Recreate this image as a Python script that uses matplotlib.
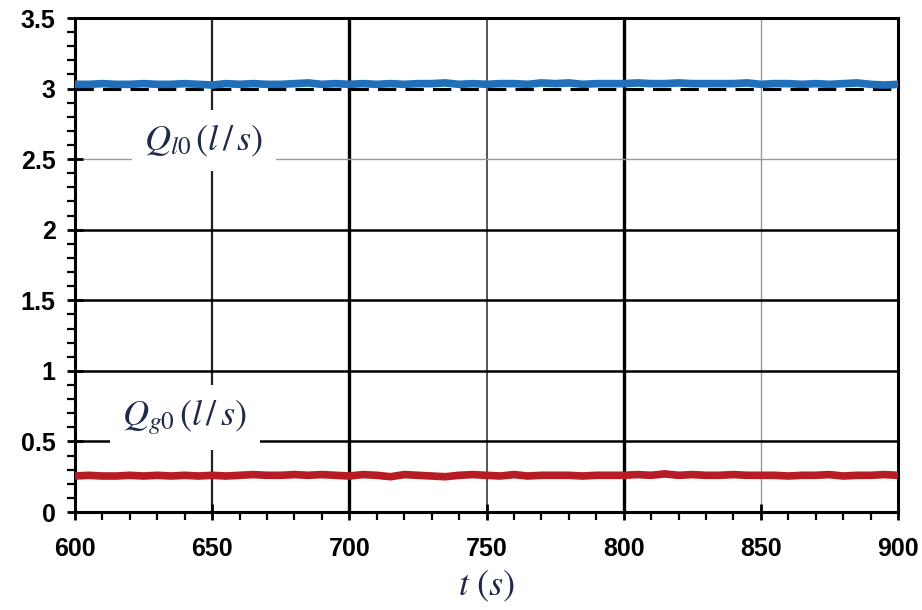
import matplotlib
matplotlib.use("Agg")
import matplotlib.pyplot as plt

plt.rcParams['mathtext.fontset'] = 'stix'

# time stamps (s)
t = list(range(600, 901, 5))
# liquid flow rate Q_l0 (l/s)
q_liquid = [3.03, 3.03, 3.035, 3.03, 3.03, 3.035, 3.03, 3.03, 3.035, 3.03,
            3.025, 3.035, 3.03, 3.035, 3.03, 3.03, 3.035, 3.04, 3.03, 3.035,
            3.03, 3.035, 3.03, 3.035, 3.03, 3.035, 3.035, 3.04, 3.03, 3.035,
            3.03, 3.035, 3.035, 3.03, 3.04, 3.035, 3.04, 3.03, 3.035, 3.035,
            3.035, 3.04, 3.035, 3.035, 3.04, 3.035, 3.035, 3.035, 3.035, 3.04,
            3.03, 3.035, 3.035, 3.03, 3.035, 3.03, 3.035, 3.04, 3.03, 3.025, 3.03]
# gas flow rate Q_g0 (l/s)
q_gas = [0.255, 0.26, 0.255, 0.255, 0.26, 0.255, 0.26, 0.255, 0.26, 0.255,
         0.26, 0.255, 0.26, 0.265, 0.26, 0.26, 0.265, 0.26, 0.265, 0.26,
         0.255, 0.265, 0.26, 0.25, 0.265, 0.26, 0.255, 0.25, 0.26, 0.265,
         0.26, 0.255, 0.265, 0.255, 0.26, 0.26, 0.26, 0.255, 0.26, 0.26,
         0.26, 0.265, 0.26, 0.27, 0.26, 0.265, 0.26, 0.26, 0.265, 0.26,
         0.26, 0.26, 0.255, 0.26, 0.26, 0.265, 0.255, 0.26, 0.26, 0.265, 0.26]
ref_liquid = 3.0

x_major = [600, 650, 700, 750, 800, 850, 900]
y_major = [0, 0.5, 1, 1.5, 2, 2.5, 3, 3.5]
y_labels = ['0', '0.5', '1', '1.5', '2', '2.5', '3', '3.5']

fig = plt.figure(figsize=(9.22, 6.10), dpi=100)
ax = fig.add_axes([75/922, 1-512/610, 823/922, 494/610])

# grid
grid_style = {650: ('#222222', 1.6), 700: ('black', 2.4), 750: ('#555555', 1.4),
              800: ('black', 2.4), 850: ('#999999', 1.0)}
for xv in x_major[1:-1]:
    c, w = grid_style[xv]
    ax.axvline(xv, color=c, lw=w, zorder=1)
for yv in [0.5, 1, 1.5, 2]:
    ax.axhline(yv, color='black', lw=1.8, zorder=1)
ax.axhline(2.5, color='#999999', lw=1.0, zorder=1)
ax.axhline(ref_liquid, color='black', lw=2.2, ls=(0, (6, 3)), zorder=2)

ax.plot(t, q_liquid, color='#1f6fba', lw=5.5, solid_capstyle='butt', zorder=3)
ax.plot(t, q_gas, color='#b71c24', lw=5.5, solid_capstyle='butt', zorder=3)

ax.set_xlim(600, 900)
ax.set_ylim(0, 3.5)
ax.set_xticks(x_major)
ax.set_xticklabels([str(v) for v in x_major])
ax.set_yticks(y_major)
ax.set_yticklabels(y_labels)
ax.set_xticks(list(range(600, 901, 10)), minor=True)
ax.set_yticks([i / 10 for i in range(0, 36)], minor=True)

for lab in ax.get_xticklabels() + ax.get_yticklabels():
    lab.set_fontfamily('Liberation Sans')
    lab.set_fontweight('bold')
    lab.set_fontsize(18)

ax.tick_params(axis='both', which='major', direction='inout', length=12, width=2, color='black')
ax.tick_params(axis='both', which='minor', direction='out', length=6, width=1.6, color='black')
ax.tick_params(axis='x', which='major', pad=12)
ax.tick_params(axis='y', which='major', pad=8)

for s in ax.spines.values():
    s.set_linewidth(2.2)
    s.set_color('black')

txt_color = '#1e2a4a'
ax.text(647, 2.63, r'$Q_{l0}\,(l\,/\,s)$', fontsize=26, color=txt_color,
        ha='center', va='center', zorder=5,
        bbox=dict(facecolor='white', edgecolor='none', pad=9))
ax.text(640, 0.67, r'$Q_{g0}\,(l\,/\,s)$', fontsize=26, color=txt_color,
        ha='center', va='center', zorder=5,
        bbox=dict(facecolor='white', edgecolor='none', pad=9))

ax.set_xlabel(r'$t\ (s)$', fontsize=26, color=txt_color, labelpad=6)

fig.savefig('out.png', dpi=100)
